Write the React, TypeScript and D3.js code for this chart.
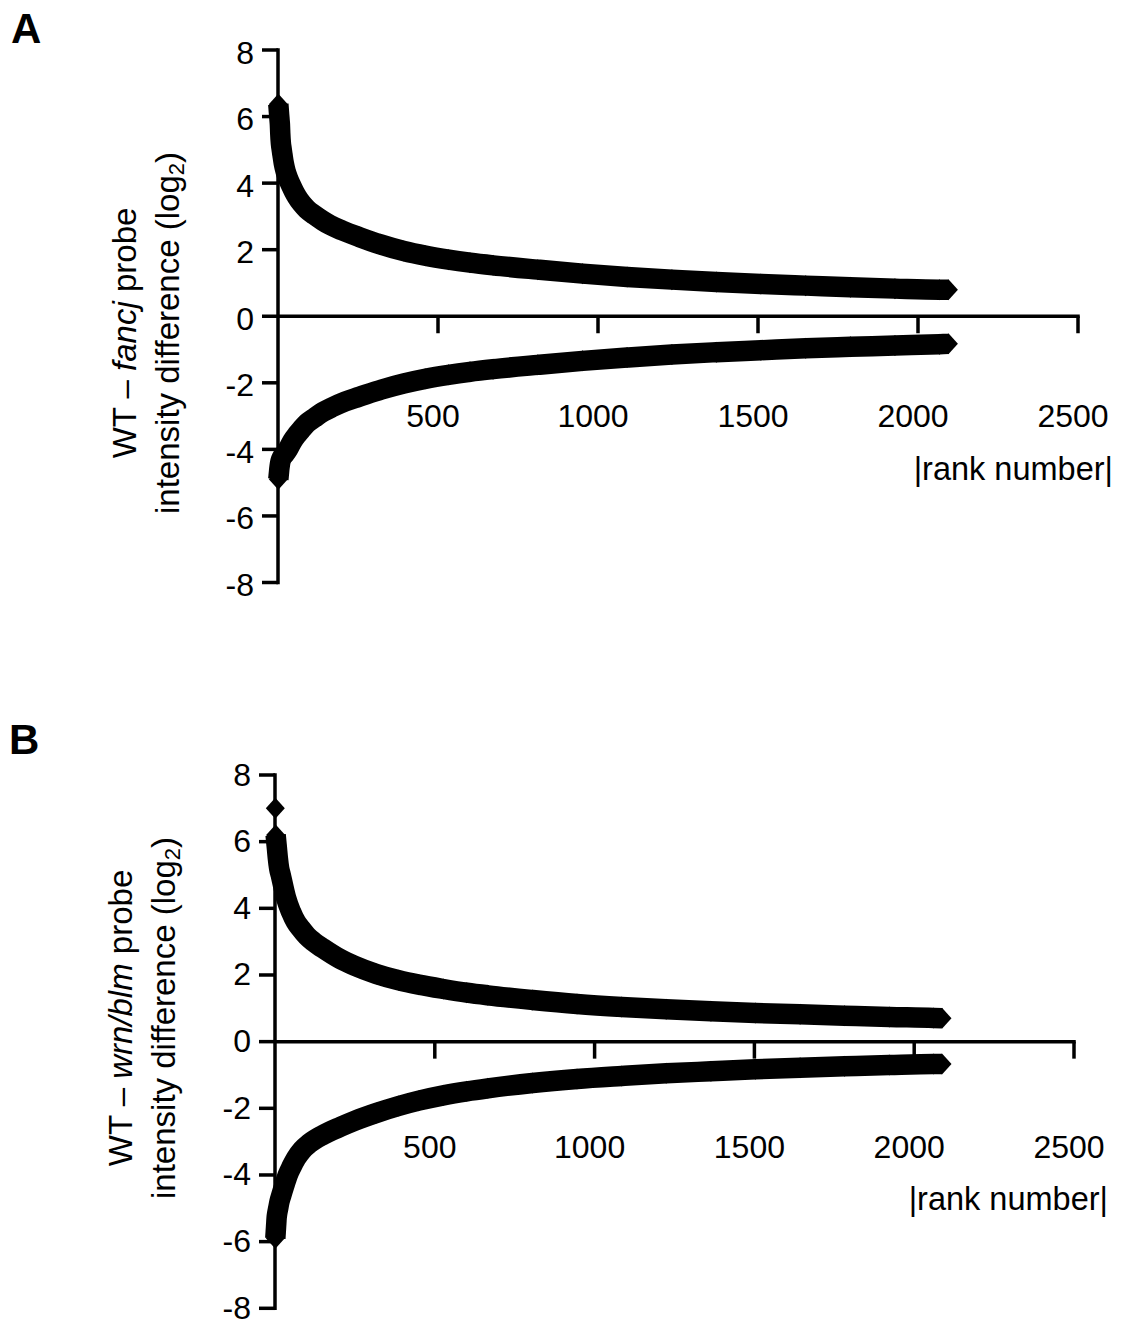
import React from "react";
import * as d3 from "d3";

const FONT = "'Liberation Sans', Arial, Helvetica, sans-serif";

const yTicks = [8, 6, 4, 2, 0, -2, -4, -6, -8];
const xTicks = [500, 1000, 1500, 2000, 2500];
const xTitle = "|rank number|";

// [|rank|, log2 difference]
const aUpper: [number, number][] = [
  [1, 6.37], [2, 6.25], [3, 6.12], [4, 6.0], [5, 5.88], [6, 5.75], [7, 5.5], [9, 5.2],
  [11, 5.05], [14, 4.85], [18, 4.6], [24, 4.35], [31, 4.15], [40, 3.95], [50, 3.75],
  [60, 3.58], [73, 3.4], [90, 3.22], [114, 3.04], [140, 2.87], [163, 2.74], [200, 2.58],
  [254, 2.38], [320, 2.16], [393, 1.96], [460, 1.82], [533, 1.7], [600, 1.61], [672, 1.53],
  [812, 1.4], [952, 1.28], [1091, 1.18], [1231, 1.1], [1370, 1.03], [1509, 0.97],
  [1649, 0.92], [1789, 0.87], [1928, 0.83], [2067, 0.8], [2095, 0.8],
];
const aLower: [number, number][] = [
  [1, -4.9], [2, -4.8], [3, -4.7], [4, -4.6], [6, -4.45], [8, -4.35], [12, -4.25],
  [20, -4.15], [31, -4.0], [45, -3.75], [60, -3.55], [73, -3.4], [90, -3.22], [114, -3.05],
  [140, -2.88], [170, -2.73], [210, -2.56], [254, -2.42], [324, -2.2], [393, -2.02],
  [460, -1.88], [533, -1.76], [600, -1.67], [672, -1.59], [812, -1.46], [952, -1.34],
  [1091, -1.24], [1231, -1.15], [1370, -1.08], [1509, -1.02], [1649, -0.96], [1789, -0.92],
  [1928, -0.88], [2067, -0.84], [2095, -0.83],
];

const bUpperOutliers: [number, number][] = [[1, 7.0]];
const bUpper: [number, number][] = [
  [2, 6.2], [3, 6.1], [4, 6.0], [6, 5.8], [9, 5.5], [13, 5.2], [18, 5.0], [25, 4.7],
  [35, 4.3], [50, 3.9], [65, 3.6], [80, 3.4], [100, 3.17], [120, 3.0], [150, 2.8],
  [200, 2.5], [248, 2.28], [317, 2.03], [387, 1.84], [450, 1.71], [527, 1.58], [600, 1.47],
  [666, 1.39], [806, 1.25], [945, 1.13], [1085, 1.04], [1224, 0.97], [1364, 0.91],
  [1503, 0.86], [1643, 0.82], [1782, 0.78], [1922, 0.74], [2061, 0.71], [2087, 0.7],
];
const bLower: [number, number][] = [
  [1, -5.9], [2, -5.75], [3, -5.6], [4, -5.45], [5, -5.3], [7, -5.15], [10, -5.0],
  [14, -4.8], [20, -4.6], [28, -4.35], [40, -4.0], [52, -3.75], [66, -3.5], [85, -3.25],
  [108, -3.05], [150, -2.8], [206, -2.55], [248, -2.38], [317, -2.14], [387, -1.93],
  [450, -1.77], [527, -1.61], [600, -1.49], [666, -1.4], [806, -1.24], [945, -1.12],
  [1085, -1.03], [1224, -0.95], [1364, -0.89], [1503, -0.83], [1643, -0.78], [1782, -0.74],
  [1922, -0.7], [2061, -0.67], [2087, -0.67],
];

type Pt = [number, number];

interface PanelProps {
  letter: string;
  letterX: number;
  letterY: number;
  xRange: [number, number];
  yRange: [number, number];
  series: Pt[][];
  outliers: Pt[];
  gene: string;
  titleX1: number;
  titleX2: number;
  titleY: number;
  yLabelDy: number;
  tickLabelDy: number;
  xTitleDy: number;
  xTitleX: number;
}

const DW = 9.5; // diamond half width
const DH = 10.5; // diamond half height

function diamond(cx: number, cy: number) {
  return `M${cx - DW},${cy}L${cx},${cy - DH}L${cx + DW},${cy}L${cx},${cy + DH}Z`;
}

function Panel(p: PanelProps) {
  const x = d3.scaleLinear().domain([0, 2500]).range(p.xRange);
  const y = d3.scaleLinear().domain([-8, 8]).range(p.yRange);
  const line = d3
    .line<Pt>()
    .x((d) => x(d[0]))
    .y((d) => y(d[1]))
    .curve(d3.curveMonotoneX);
  const x0 = x(0);
  const y0 = y(0);
  const sw = 3.5;
  return (
    <g>
      <text x={p.letterX} y={p.letterY} fontFamily={FONT} fontWeight="bold" fontSize={42}>
        {p.letter}
      </text>
      {p.series.map((s, i) => (
        <g key={i}>
          <path d={line(s) || ""} fill="none" stroke="#000" strokeWidth={20.5} strokeLinejoin="round" />
          {s.map((d, j) => (
            <path key={j} d={diamond(x(d[0]), y(d[1]))} fill="#000" />
          ))}
        </g>
      ))}
      {p.outliers.map((d, j) => (
        <path key={"o" + j} d={diamond(x(d[0]), y(d[1]))} fill="#000" />
      ))}
      <line x1={x0} x2={x0} y1={y(8) - sw / 2} y2={y(-8) + sw / 2} stroke="#000" strokeWidth={sw} />
      {yTicks.map((t) => (
        <g key={t}>
          <line x1={x0 - 16} x2={x0} y1={y(t)} y2={y(t)} stroke="#000" strokeWidth={sw} />
          <text x={x0 - 24} y={y(t) + p.yLabelDy} textAnchor="end" fontFamily={FONT} fontSize={32}>
            {t < 0 ? "-" + Math.abs(t) : String(t)}
          </text>
        </g>
      ))}
      <line x1={x0} x2={x(2500) + sw / 2} y1={y0} y2={y0} stroke="#000" strokeWidth={sw} />
      {xTicks.map((t) => (
        <g key={t}>
          <line x1={x(t)} x2={x(t)} y1={y0} y2={y0 + 17} stroke="#000" strokeWidth={sw} />
          <text x={x(t) - 5} y={y0 + p.tickLabelDy} textAnchor="middle" fontFamily={FONT} fontSize={32}>
            {t}
          </text>
        </g>
      ))}
      <text x={p.xTitleX} y={y0 + p.xTitleDy} textAnchor="end" fontFamily={FONT} fontSize={32.5}>
        {xTitle}
      </text>
      <text
        transform={`translate(${p.titleX1},${p.titleY}) rotate(-90)`}
        textAnchor="middle"
        fontFamily={FONT}
        fontSize={33}
      >
        <tspan>WT – </tspan>
        <tspan fontStyle="italic">{p.gene}</tspan>
        <tspan> probe</tspan>
      </text>
      <text
        transform={`translate(${p.titleX2},${p.titleY}) rotate(-90)`}
        textAnchor="middle"
        fontFamily={FONT}
        fontSize={33}
      >
        <tspan>intensity difference (log</tspan>
        <tspan fontSize={22} dy={5}>2</tspan>
        <tspan dy={-5}>)</tspan>
      </text>
    </g>
  );
}

export default function App() {
  return (
    <svg
      width={1123}
      height={1321}
      viewBox="0 0 1123 1321"
      style={{ position: "absolute", left: 0, top: 0, background: "#fff" }}
    >
      <rect x={0} y={0} width={1123} height={1321} fill="#fff" />
      <Panel
        letter="A"
        letterX={11}
        letterY={43}
        xRange={[278, 1078]}
        yRange={[582.5, 50]}
        series={[aUpper, aLower]}
        outliers={[]}
        gene="fancj"
        titleX1={136}
        titleX2={179}
        titleY={333}
        yLabelDy={13.5}
        tickLabelDy={111}
        xTitleDy={164}
        xTitleX={1113}
      />
      <Panel
        letter="B"
        letterX={9}
        letterY={754}
        xRange={[275, 1074]}
        yRange={[1308.3, 775]}
        series={[bUpper, bLower]}
        outliers={bUpperOutliers}
        gene="wrn/blm"
        titleX1={132}
        titleX2={175}
        titleY={1018}
        yLabelDy={10.5}
        tickLabelDy={116}
        xTitleDy={168}
        xTitleX={1108}
      />
    </svg>
  );
}
